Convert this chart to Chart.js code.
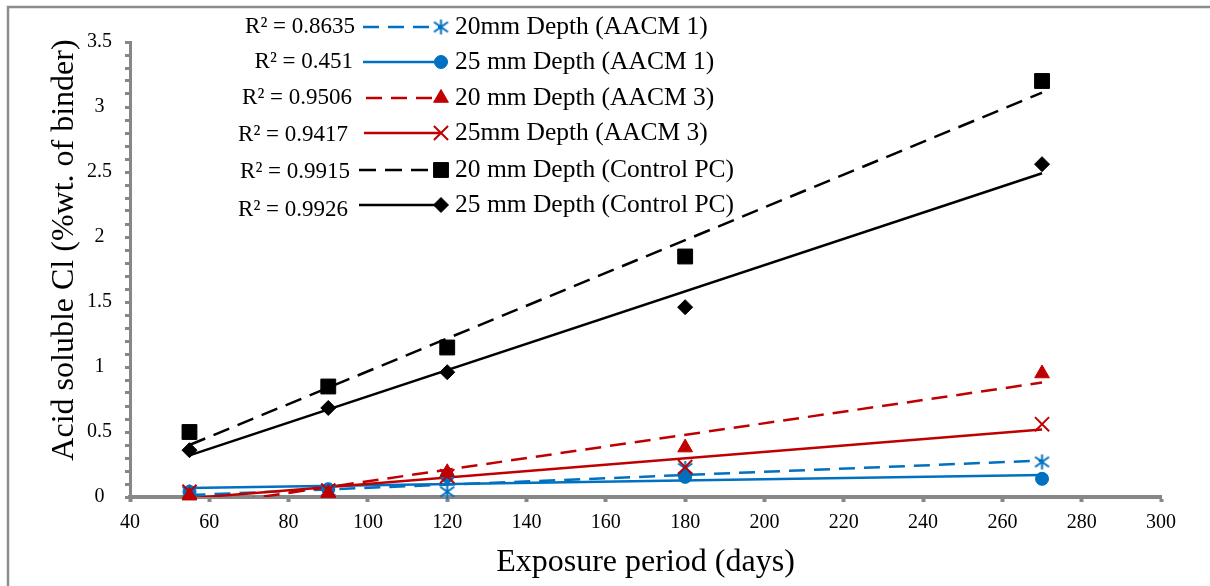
<!DOCTYPE html>
<html>
<head>
<meta charset="utf-8">
<script src="https://cdn.jsdelivr.net/npm/chart.js@4.4.1/dist/chart.umd.min.js"></script>
<style>
  html, body { margin: 0; padding: 0; background: #fff; }
  #wrap { width: 1210px; height: 586px; }
</style>
</head>
<body>
<div id="wrap"><canvas id="chloride" width="1210" height="586"></canvas></div>
<script>
// exposure days and acid soluble chloride (% wt. of binder)
const days = [55, 90, 120, 180, 270];
const aacm1_20 = [0.04, 0.05, 0.04, 0.22, 0.27];
const aacm1_25 = [0.04, 0.06, 0.16, 0.155, 0.14];
const aacm3_20 = [0.01, 0.03, 0.19, 0.38, 0.95];
const aacm3_25 = [0.04, 0.05, 0.16, 0.23, 0.56];
const pc_20 = [0.5, 0.85, 1.15, 1.85, 3.2];
const pc_25 = [0.36, 0.685, 0.96, 1.46, 2.56];

// linear trendlines as drawn (value at first and last day)
const trendDays = [55, 270];
const trend_aacm1_20 = [0.015, 0.28];
const trend_aacm1_25 = [0.07, 0.17];
const trend_aacm3_20 = [-0.08, 0.88];
const trend_aacm3_25 = [-0.01, 0.52];
const trend_pc_20 = [0.40, 3.11];
const trend_pc_25 = [0.32, 2.49];

const seriesNames = ['20mm Depth (AACM 1)', '25 mm Depth (AACM 1)', '20 mm Depth (AACM 3)',
  '25mm Depth (AACM 3)', '20 mm Depth (Control PC)', '25 mm Depth (Control PC)'];
const r2Labels = ['R² = 0.8635', 'R² = 0.451', 'R² = 0.9506', 'R² = 0.9417', 'R² = 0.9915', 'R² = 0.9926'];
const xTicks = { min: 40, max: 300, step: 20 };
const yTicks = { min: 0, max: 3.5, step: 0.5 };

const BLUE = '#0070C0', RED = '#C00000', BLACK = '#000000', AXIS = '#878787';
const SERIF = '"Liberation Serif", "Times New Roman", serif';

function makeAsterisk(color) {
  const c = document.createElement('canvas');
  c.width = 17; c.height = 17;
  const g = c.getContext('2d');
  g.strokeStyle = color; g.lineWidth = 2;
  g.beginPath();
  g.moveTo(8.5, 1); g.lineTo(8.5, 16);
  g.moveTo(1.5, 3.5); g.lineTo(15.5, 13.5);
  g.moveTo(15.5, 3.5); g.lineTo(1.5, 13.5);
  g.stroke();
  return c;
}

const pts = (xs, ys) => xs.map((x, i) => ({ x, y: ys[i] }));

const styles = [
  { color: BLUE, dash: [16, 9], point: makeAsterisk(BLUE), radius: 8, bw: 2 },
  { color: BLUE, dash: [], point: 'circle', radius: 6.5, bw: 1 },
  { color: RED, dash: [16, 9], point: 'triangle', radius: 8.5, bw: 1 },
  { color: RED, dash: [], point: 'crossRot', radius: 10, bw: 2 },
  { color: BLACK, dash: [17, 9], point: 'rect', radius: 10.5, bw: 1 },
  { color: BLACK, dash: [], point: 'rectRot', radius: 7.5, bw: 1 },
];
const values = [aacm1_20, aacm1_25, aacm3_20, aacm3_25, pc_20, pc_25];
const trends = [trend_aacm1_20, trend_aacm1_25, trend_aacm3_20, trend_aacm3_25, trend_pc_20, trend_pc_25];

const datasets = [];
values.forEach((v, i) => {
  const s = styles[i];
  datasets.push({
    label: seriesNames[i],
    data: pts(days, v),
    showLine: false,
    pointStyle: s.point,
    pointRadius: s.radius,
    pointBorderWidth: s.bw,
    pointBackgroundColor: s.color,
    pointBorderColor: s.color,
    clip: false,
    order: 10 - i
  });
  datasets.push({
    label: r2Labels[i],
    data: pts(trendDays, trends[i]),
    showLine: true,
    borderColor: s.color,
    borderWidth: 2.5,
    borderDash: s.dash,
    pointRadius: 0,
    order: 30 - i
  });
});

const frame = {
  id: 'frame',
  beforeDraw(chart) {
    const ctx = chart.ctx;
    ctx.save();
    ctx.fillStyle = '#fff';
    ctx.fillRect(0, 0, chart.width, chart.height);
    ctx.strokeStyle = '#8c8c8c';
    ctx.lineWidth = 2.5;
    ctx.beginPath();
    ctx.moveTo(8, chart.height);
    ctx.lineTo(8, 7);
    ctx.lineTo(chart.width, 7);
    ctx.stroke();
    ctx.restore();
  },
  afterDraw(chart) {
    const ctx = chart.ctx, area = chart.chartArea;
    ctx.save();
    ctx.fillStyle = '#000';
    ctx.textAlign = 'center';
    ctx.textBaseline = 'middle';
    ctx.font = '32px ' + SERIF;
    ctx.fillText('Exposure period (days)', (area.left + area.right) / 2, 563);
    ctx.translate(65, 250);
    ctx.rotate(-Math.PI / 2);
    ctx.fillText('Acid soluble Cl (%wt. of binder)', 0, 0);
    ctx.restore();
  }
};

// legend: R² text, line sample ending in marker, series name
const legendRowY = [27, 62, 98, 133, 170, 205];
const legendR2Y = [27, 62, 98, 135, 172, 210];
const legendR2Right = [355, 353, 352, 348, 350, 348];
const legendLineStart = [363, 363, 366, 364, 359, 359];

const trendLegend = {
  id: 'trendLegend',
  afterDraw(chart) {
    const ctx = chart.ctx;
    const markX = 441;
    ctx.save();
    styles.forEach((s, i) => {
      const y = legendRowY[i];
      ctx.fillStyle = '#000';
      ctx.textBaseline = 'middle';
      ctx.textAlign = 'right';
      ctx.font = '23px ' + SERIF;
      ctx.fillText(r2Labels[i], legendR2Right[i], legendR2Y[i]);
      ctx.textAlign = 'left';
      ctx.font = '25.5px ' + SERIF;
      ctx.fillText(seriesNames[i], 455, y);

      ctx.strokeStyle = s.color;
      ctx.lineWidth = 2.5;
      ctx.setLineDash(s.dash);
      ctx.beginPath();
      ctx.moveTo(legendLineStart[i], y);
      ctx.lineTo(markX, y);
      ctx.stroke();
      ctx.setLineDash([]);
      ctx.fillStyle = s.color;
      ctx.lineWidth = s.bw;
      Chart.helpers.drawPoint(ctx, { pointStyle: s.point, radius: s.radius, rotation: 0, borderWidth: s.bw }, markX, y);
    });
    ctx.restore();
  }
};

new Chart(document.getElementById('chloride'), {
  type: 'scatter',
  data: { datasets },
  options: {
    responsive: false,
    animation: false,
    devicePixelRatio: 1,
    layout: { padding: { left: 0, right: 49, top: 42, bottom: 0 } },
    plugins: { legend: { display: false }, tooltip: { enabled: false } },
    scales: {
      x: {
        type: 'linear',
        min: xTicks.min, max: xTicks.max,
        afterFit: s => { s.height = 89; },
        border: { color: AXIS, width: 4 },
        grid: { drawOnChartArea: false, tickLength: 5, tickWidth: 4, tickColor: AXIS },
        ticks: { stepSize: xTicks.step, padding: 9, color: '#000', font: { family: SERIF, size: 20 } }
      },
      y: {
        min: yTicks.min, max: yTicks.max,
        afterFit: s => { s.width = 130; },
        border: { color: AXIS, width: 3 },
        grid: { drawOnChartArea: false, tickLength: 5, tickWidth: 3, tickColor: AXIS },
        ticks: {
          stepSize: 0.1,
          autoSkip: false,
          crossAlign: 'center',
          padding: 13,
          color: '#000',
          font: { family: SERIF, size: 20 },
          callback: v => {
            const h = v / yTicks.step;
            return Math.abs(h - Math.round(h)) < 1e-6 ? String(Math.round(v * 10) / 10) : '';
          }
        }
      }
    }
  },
  plugins: [frame, trendLegend]
});
</script>
</body>
</html>
